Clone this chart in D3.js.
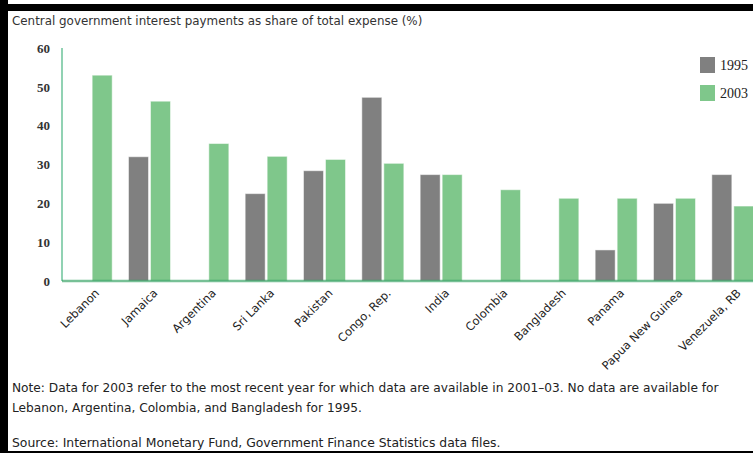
<!DOCTYPE html>
<html>
<head>
<meta charset="utf-8">
<script src="https://cdn.jsdelivr.net/npm/d3@7"></script>
<style>
  body { margin: 0; background: #fff; }
  svg { display: block; }
</style>
</head>
<body>
<svg id="chart" width="753" height="457"></svg>
<script>
// data
const countries = ["Lebanon", "Jamaica", "Argentina", "Sri Lanka", "Pakistan", "Congo, Rep.",
  "India", "Colombia", "Bangladesh", "Panama", "Papua New Guinea", "Venezuela, RB"];
const values1995 = [null, 32, null, 22.5, 28.4, 47.3, 27.4, null, null, 8, 20, 27.4];
const values2003 = [53, 46.3, 35.4, 32.1, 31.3, 30.3, 27.4, 23.5, 21.3, 21.3, 21.3, 19.3];
const yTicks = [0, 10, 20, 30, 40, 50, 60];
const seriesNames = ["1995", "2003"];

const title = "Central government interest payments as share of total expense (%)";
const noteLines = [
  "Note: Data for 2003 refer to the most recent year for which data are available in 2001\u201303. No data are available for",
  "Lebanon, Argentina, Colombia, and Bangladesh for 1995."
];
const source = "Source: International Monetary Fund, Government Finance Statistics data files.";

const gray = "#808080", green = "#7fc78b", axisGreen = "#6cc39a";
const sans = "'DejaVu Sans', Verdana, sans-serif";
const serif = "'Liberation Serif', 'DejaVu Serif', serif";

const svg = d3.select("#chart");

// black frame pieces
svg.append("rect").attr("x", 0).attr("y", 4).attr("width", 753).attr("height", 7).attr("fill", "#000");
svg.append("rect").attr("x", 0).attr("y", 0).attr("width", 8).attr("height", 453).attr("fill", "#000");
svg.append("rect").attr("x", 8).attr("y", 451).attr("width", 745).attr("height", 2).attr("fill", "#000");

svg.append("text")
    .attr("x", 12).attr("y", 25)
    .style("font-family", sans).style("font-size", "11.9px").style("fill", "#333")
    .text(title);

const x = d3.scaleBand().domain(countries).range([62, 762]).padding(0);
const y = d3.scaleLinear().domain([0, 60]).range([281, 48]);
const barW = 20, gap = 2;

// y axis
const yAxis = svg.append("g")
    .attr("transform", "translate(62,0)")
    .call(d3.axisLeft(y).tickValues(yTicks).tickSize(0).tickPadding(12));
yAxis.select(".domain").remove();
yAxis.selectAll("text")
    .style("font-family", serif).style("font-size", "13px").style("font-weight", "bold").style("fill", "#333");

svg.append("line")
    .attr("x1", 62).attr("x2", 62).attr("y1", y(60)).attr("y2", y(0))
    .attr("stroke", axisGreen).attr("stroke-width", 1.5);

const center = d => x(d) + x.bandwidth() / 2;

// bars
svg.append("g").selectAll("rect")
    .data(countries.map((c, i) => ({c, v: values1995[i]})).filter(d => d.v != null))
    .join("rect")
      .attr("x", d => center(d.c) - gap / 2 - barW)
      .attr("y", d => y(d.v))
      .attr("width", barW)
      .attr("height", d => y(0) - y(d.v))
      .attr("fill", gray)
      .attr("stroke", "#fff").attr("stroke-opacity", 0.5);

svg.append("g").selectAll("rect")
    .data(countries.map((c, i) => ({c, v: values2003[i]})))
    .join("rect")
      .attr("x", d => center(d.c) + gap / 2)
      .attr("y", d => y(d.v))
      .attr("width", barW)
      .attr("height", d => y(0) - y(d.v))
      .attr("fill", green)
      .attr("stroke", "#fff").attr("stroke-opacity", 0.5);

// baseline over the bars
svg.append("line")
    .attr("x1", 62).attr("x2", 753).attr("y1", y(0)).attr("y2", y(0))
    .attr("stroke", "#2e9e5e").attr("stroke-opacity", 0.65).attr("stroke-width", 2.5);

// category labels
svg.append("g").selectAll("text")
    .data(countries)
    .join("text")
      .attr("transform", d => `translate(${center(d) + 6},291) rotate(-45)`)
      .attr("text-anchor", "end")
      .attr("dy", "0.35em")
      .style("font-family", sans).style("font-size", "11.5px").style("fill", "#222")
      .text(d => d);

// legend
const legend = svg.append("g").selectAll("g")
    .data(seriesNames)
    .join("g")
      .attr("transform", (d, i) => `translate(700,${57 + i * 28})`);
legend.append("rect")
    .attr("width", 15).attr("height", 16)
    .attr("fill", (d, i) => i === 0 ? gray : green);
legend.append("text")
    .attr("x", 20).attr("y", 13)
    .style("font-family", serif).style("font-size", "14px").style("fill", "#222")
    .text(d => d);

// notes
svg.append("g").selectAll("text")
    .data(noteLines)
    .join("text")
      .attr("x", 12).attr("y", (d, i) => 392 + i * 20)
      .style("font-family", sans).style("font-size", "12.2px").style("fill", "#222")
      .text(d => d);

svg.append("text")
    .attr("x", 12).attr("y", 447)
    .style("font-family", sans).style("font-size", "12.4px").style("fill", "#222")
    .text(source);
</script>
</body>
</html>
